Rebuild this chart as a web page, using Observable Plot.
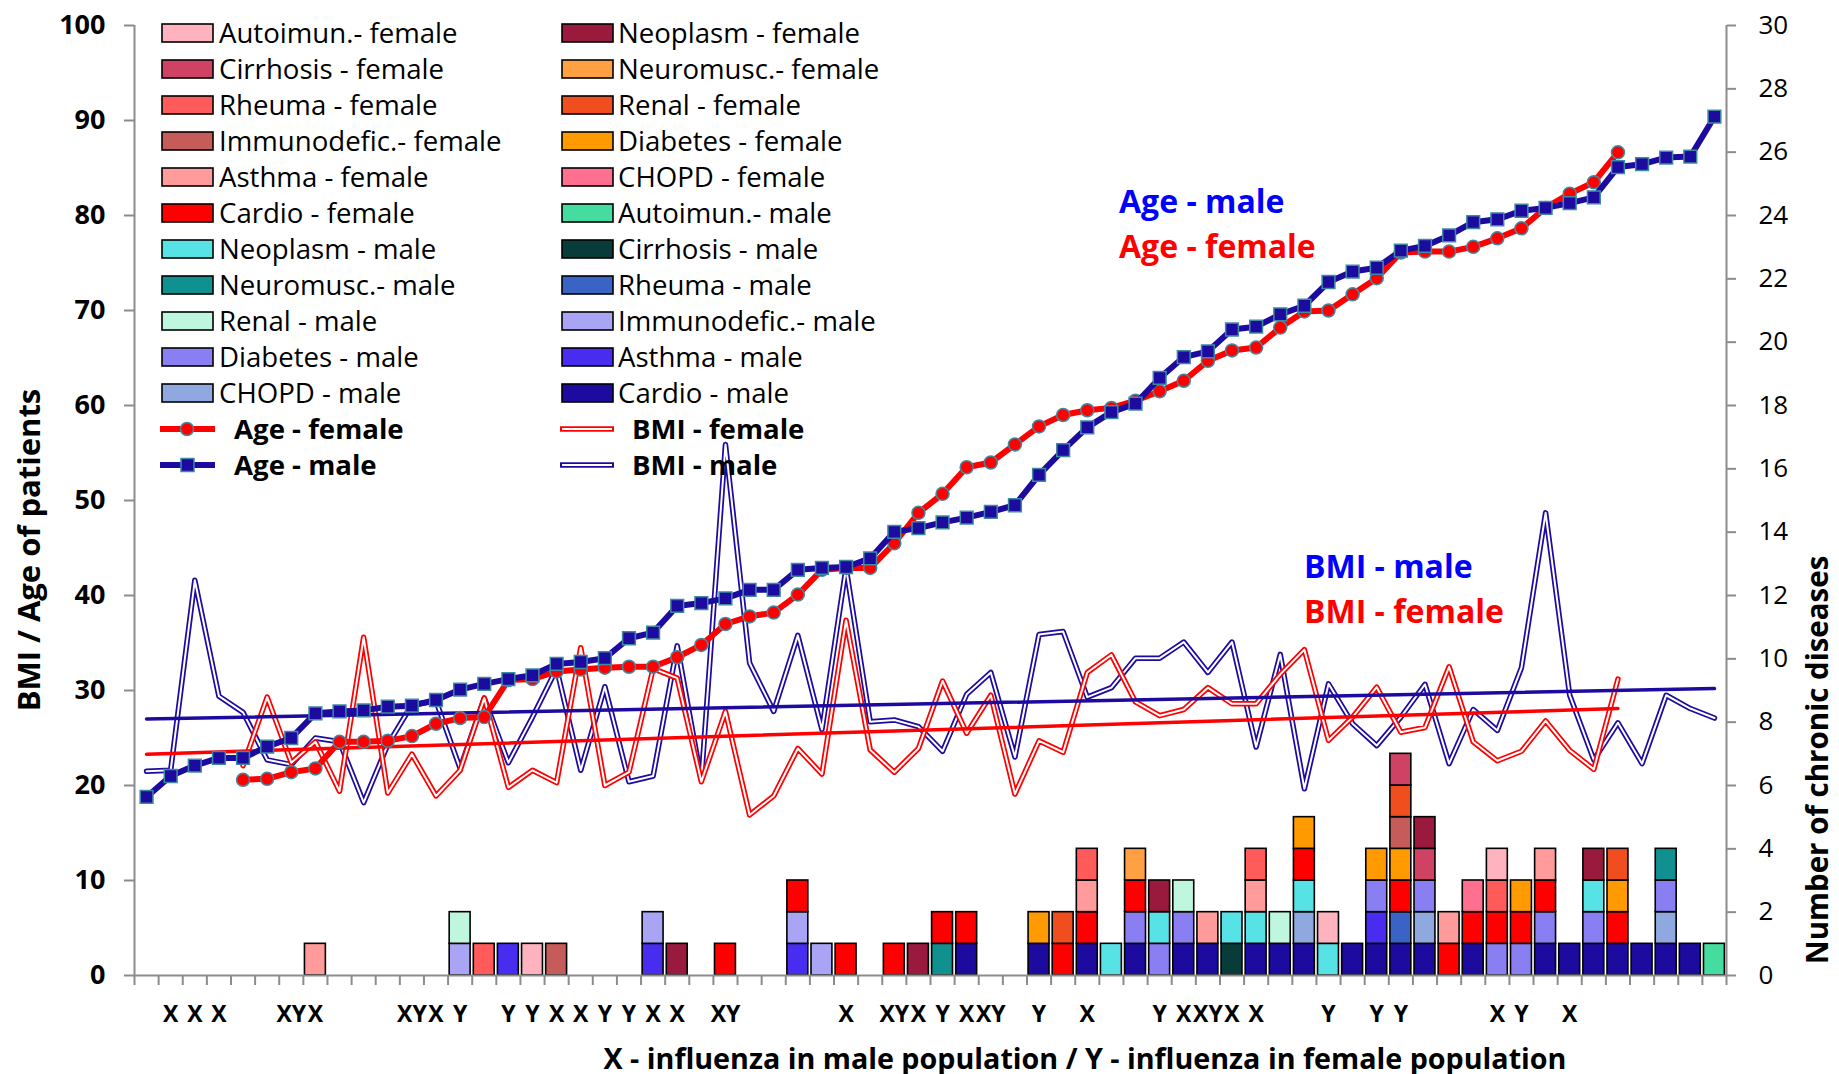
<!DOCTYPE html>
<html>
<head>
<meta charset="utf-8">
<script src="https://cdn.jsdelivr.net/npm/d3@7"></script>
<script src="https://cdn.jsdelivr.net/npm/@observablehq/plot@0.6"></script>
<style>
  body { margin: 0; background: #fff; }
  #chart { width: 1839px; height: 1074px; }
</style>
</head>
<body>
<div id="chart"></div>
<script>
// ---------------- DATA ----------------
// Age of male patients, categories 1..66
const ageMale = [18.8, 21.0, 22.1, 22.9, 22.9, 24.1, 25.0, 27.6, 27.8, 27.9, 28.3, 28.4, 29.0, 30.1, 30.7, 31.2, 31.6,
  32.8, 33.0, 33.4, 35.5, 36.1, 38.9, 39.2, 39.7, 40.6, 40.6, 42.7, 42.9, 43.0, 43.9, 46.7, 47.1, 47.7, 48.2, 48.8,
  49.5, 52.7, 55.3, 57.7, 59.3, 60.2, 62.9, 65.1, 65.7, 68.0, 68.3, 69.6, 70.5, 73.0, 74.1, 74.5, 76.3, 76.8, 77.9,
  79.3, 79.6, 80.5, 80.8, 81.3, 81.9, 85.1, 85.4, 86.1, 86.2, 90.4];
// Female series start at category 5 and end at category 62
const femaleStart = 5;
const ageFemale = [20.6, 20.7, 21.4, 21.8, 24.6, 24.6, 24.7, 25.2, 26.5, 27.1, 27.2, 31.1, 31.2, 32.0, 32.2, 32.4,
  32.5, 32.5, 33.5, 34.8, 37.0, 37.8, 38.2, 40.1, 42.7, 42.9, 42.9, 45.5, 48.7, 50.7, 53.5, 54.0, 55.9, 57.8, 59.0,
  59.5, 59.75, 60.5, 61.5, 62.6, 64.7, 65.8, 66.1, 68.2, 69.9, 70.0, 71.7, 73.4, 76.1, 76.2, 76.2, 76.7, 77.6, 78.65,
  80.8, 82.3, 83.5, 86.65];
const bmiMale = [21.5, 21.6, 41.6, 29.4, 27.7, 22.7, 22.2, 25.0, 24.6, 18.2, 24.3, 28.5, 28.9, 21.8, 29.2, 22.4, 27.2,
  32.3, 21.6, 30.4, 20.4, 21.0, 34.7, 20.6, 55.9, 32.9, 27.8, 35.8, 25.9, 42.9, 26.7, 26.9, 26.2, 23.6, 29.6, 31.9,
  23.0, 35.9, 36.2, 29.3, 30.3, 33.4, 33.4, 35.1, 31.9, 35.1, 24.05, 33.8, 19.65, 30.7, 26.5, 24.2, 27.2, 30.65, 22.3,
  28.0, 25.8, 32.4, 48.7, 29.5, 22.7, 26.6, 22.3, 29.5, 28.1, 27.1];
const bmiFemale = [22.1, 29.3, 22.4, 24.6, 19.4, 35.6, 19.2, 23.3, 18.9, 21.6, 29.2, 19.8, 21.6, 20.3, 34.5, 20.0, 21.4,
  32.3, 31.3, 20.4, 27.8, 16.9, 18.9, 23.9, 21.2, 37.4, 23.75, 21.4, 23.9, 31.0, 25.5, 29.5, 19.1, 24.7, 23.5, 31.9,
  33.75, 28.8, 27.35, 28.0, 30.3, 28.6, 28.6, 31.7, 34.3, 24.75, 27.2, 30.35, 25.6, 26.1, 32.5, 24.6, 22.6, 23.6, 26.8,
  23.7, 21.7, 31.2];
// Linear trend lines (end points)
const trendMaleCats = [1, 66];
const trendMale = [27.0, 30.2];
const trendFemaleCats = [1, 62];
const trendFemale = [23.3, 28.1];
// Category labels: X - influenza in male, Y - influenza in female
const fluLabels = ["", "X", "X", "X", "", "", "XY", "X", "", "", "", "XY", "X", "Y", "", "Y", "Y", "X", "X", "Y",
  "Y", "X", "X", "", "XY", "", "", "", "", "X", "", "XY", "X", "Y", "X", "XY", "", "Y", "", "X", "", "", "Y", "X",
  "XY", "X", "X", "", "", "Y", "", "Y", "Y", "", "", "", "X", "Y", "", "X", "", "", "", "", "", ""];
// Chronic diseases, in stacking order (bottom to top)
const diseaseCodes = ["CaM", "ChM", "AsM", "DiM", "ImM", "ReM", "RhM", "NmM", "CiM", "NeM", "AuM",
  "CaF", "ChF", "AsF", "DiF", "ImF", "ReF", "RhF", "NmF", "CiF", "NeF", "AuF"];
const diseaseNames = ["Cardio - male", "CHOPD - male", "Asthma - male", "Diabetes - male", "Immunodefic.- male",
  "Renal - male", "Rheuma - male", "Neuromusc.- male", "Cirrhosis - male", "Neoplasm - male", "Autoimun.- male",
  "Cardio - female", "CHOPD - female", "Asthma - female", "Diabetes - female", "Immunodefic.- female",
  "Renal - female", "Rheuma - female", "Neuromusc.- female", "Cirrhosis - female", "Neoplasm - female",
  "Autoimun.- female"];
const diseaseColors = ["#1d0b9f", "#8fa8e0", "#482cf0", "#8a7ff2", "#aaa4f5", "#bef7de", "#3a63c6", "#119090",
  "#073c3b", "#57e3e6", "#44dd9f", "#ff0000", "#ff6f8f", "#ff9b9b", "#ff9a00", "#c55c5a", "#f04e1e", "#ff5b5b",
  "#ffa042", "#cf4264", "#991a3d", "#ffb3be"];
// Diseases present per category (bottom to top)
const diseaseStacks = [
  [8, ["AsF"]], [14, ["ImM", "ReM"]], [15, ["RhF"]], [16, ["AsM"]], [17, ["AuF"]], [18, ["ImF"]],
  [22, ["AsM", "ImM"]], [23, ["NeF"]], [25, ["CaF"]], [28, ["AsM", "ImM", "CaF"]], [29, ["ImM"]], [30, ["CaF"]],
  [32, ["CaF"]], [33, ["NeF"]], [34, ["NmM", "CaF"]], [35, ["CaM", "CaF"]], [38, ["CaM", "DiF"]],
  [39, ["CaF", "ReF"]], [40, ["CaM", "CaF", "AsF", "RhF"]], [41, ["NeM"]], [42, ["CaM", "DiM", "CaF", "NmF"]],
  [43, ["DiM", "NeM", "NeF"]], [44, ["CaM", "DiM", "ReM"]], [45, ["CaM", "AsF"]], [46, ["CiM", "NeM"]],
  [47, ["CaM", "NeM", "AsF", "RhF"]], [48, ["CaM", "ReM"]], [49, ["CaM", "ChM", "NeM", "CaF", "DiF"]],
  [50, ["NeM", "AuF"]], [51, ["CaM"]], [52, ["CaM", "AsM", "DiM", "DiF"]],
  [53, ["CaM", "RhM", "CaF", "DiF", "ImF", "ReF", "CiF"]], [54, ["CaM", "ChM", "DiM", "CiF", "NeF"]],
  [55, ["CaF", "AsF"]], [56, ["CaM", "CaF", "ChF"]], [57, ["DiM", "CaF", "RhF", "AuF"]], [58, ["DiM", "CaF", "DiF"]],
  [59, ["CaM", "DiM", "CaF", "AsF"]], [60, ["CaM"]], [61, ["CaM", "DiM", "NeM", "NeF"]],
  [62, ["CaM", "CaF", "DiF", "ReF"]], [63, ["CaM"]], [64, ["CaM", "ChM", "DiM", "NmM"]], [65, ["CaM"]], [66, ["AuM"]]
];
const rightTicks = d3.range(0, 31, 2);
const leftTicks = d3.range(0, 101, 10);

// ---------------- BUILD ----------------
const nCat = ageMale.length;
const K = 100 / 30; // one disease in left-axis units
const colorOf = Object.fromEntries(diseaseCodes.map((c, i) => [c, diseaseColors[i]]));
const maleRows = ageMale.map((v, i) => ({cat: i + 1, age: v, bmi: bmiMale[i]}));
const femaleRows = ageFemale.map((v, i) => ({cat: i + femaleStart, age: v, bmi: bmiFemale[i]}));
const segs = diseaseStacks.flatMap(([cat, list]) => list.map((code, k) => ({cat, code, k})));
const trendM = trendMaleCats.map((c, i) => ({cat: c, v: trendMale[i]}));
const trendF = trendFemaleCats.map((c, i) => ({cat: c, v: trendFemale[i]}));
const cats = d3.range(1, nCat + 1);

const RED = "#ff0000", NAVY = "#1d0b9f", GREY = "#8c8c8c", MARK_STROKE = "#3f8aa0";
const FONT = "'Open Sans', sans-serif";

const plot = Plot.plot({
  width: 1839, height: 1074,
  marginLeft: 134, marginRight: 113, marginTop: 25, marginBottom: 99,
  x: {type: "linear", domain: [0.5, nCat + 0.5]},
  y: {domain: [0, 100]},
  style: {fontFamily: FONT, background: "white", overflow: "visible"},
  marks: [
    // stacked disease bars (right axis units)
    Plot.rect(segs, {
      x1: d => d.cat - 0.5, x2: d => d.cat + 0.5,
      y1: d => d.k * K, y2: d => (d.k + 1) * K,
      fill: d => colorOf[d.code], stroke: "#000", strokeWidth: 1.6,
      insetLeft: 1.6, insetRight: 1.6
    }),
    // axes lines
    Plot.ruleX([0.5, nCat + 0.5], {stroke: GREY, strokeWidth: 2}),
    Plot.ruleY([0], {stroke: GREY, strokeWidth: 2}),
    // left axis
    Plot.axisY(leftTicks, {anchor: "left", tickSize: 10, tickPadding: 19, stroke: GREY, strokeWidth: 2,
      fill: "#000", fontSize: 27, fontWeight: "bold", label: null}),
    // right axis (number of chronic diseases)
    Plot.axisY(rightTicks.map(v => v * K), {anchor: "right", tickSize: 9, tickPadding: 23, stroke: GREY,
      strokeWidth: 2, fill: "#000", fontSize: 26, tickFormat: d => String(Math.round(d / K)), label: null}),
    // x tick marks between categories
    Plot.axisX(d3.range(0.5, nCat + 1, 1), {anchor: "bottom", tickSize: 10, stroke: GREY, strokeWidth: 2,
      tickFormat: () => "", label: null}),
    // influenza labels
    Plot.axisX(cats, {anchor: "bottom", tickSize: 0, tickPadding: 30, fill: "#000", fontSize: 23,
      fontWeight: "bold", tickFormat: d => fluLabels[d - 1], label: null}),
    // BMI double lines
    Plot.line(maleRows, {x: "cat", y: "bmi", stroke: NAVY, strokeWidth: 5.5}),
    Plot.line(maleRows, {x: "cat", y: "bmi", stroke: "white", strokeWidth: 2}),
    Plot.line(femaleRows, {x: "cat", y: "bmi", stroke: RED, strokeWidth: 5.5}),
    Plot.line(femaleRows, {x: "cat", y: "bmi", stroke: "white", strokeWidth: 2}),
    // trend lines
    Plot.line(trendM, {x: "cat", y: "v", stroke: NAVY, strokeWidth: 3.5}),
    Plot.line(trendF, {x: "cat", y: "v", stroke: RED, strokeWidth: 3.5}),
    // age lines
    Plot.line(femaleRows, {x: "cat", y: "age", stroke: RED, strokeWidth: 6}),
    Plot.dot(femaleRows, {x: "cat", y: "age", r: 6.5, fill: RED, stroke: MARK_STROKE, strokeWidth: 1.5}),
    Plot.line(maleRows, {x: "cat", y: "age", stroke: NAVY, strokeWidth: 6}),
    Plot.dot(maleRows, {x: "cat", y: "age", r: 7.2, symbol: "square", fill: NAVY, stroke: MARK_STROKE, strokeWidth: 1.5})
  ]
});

document.getElementById("chart").appendChild(plot);

// ---------------- ANNOTATIONS, TITLES, LEGEND ----------------
const svg = d3.select(plot);
const g = svg.append("g").attr("font-family", FONT).attr("text-anchor", "start");

// axis titles
g.append("text").attr("transform", "translate(40,550) rotate(-90)").attr("text-anchor", "middle")
  .attr("font-size", 31).attr("font-weight", "bold").attr("fill", "#000").text("BMI / Age of patients");
g.append("text").attr("transform", "translate(1828,760) rotate(-90)").attr("text-anchor", "middle")
  .attr("font-size", 29.5).attr("font-weight", "bold").attr("fill", "#000").text("Number of chronic diseases");
g.append("text").attr("x", 1085).attr("y", 1069).attr("text-anchor", "middle")
  .attr("font-size", 28.7).attr("font-weight", "bold").attr("fill", "#000")
  .text("X - influenza in male population / Y - influenza in female population");

// series annotations
const notes = [
  {t: "Age - male", x: 1119, y: 213, c: "#0000ff"},
  {t: "Age - female", x: 1119, y: 258, c: RED},
  {t: "BMI - male", x: 1304, y: 578, c: "#0000ff"},
  {t: "BMI - female", x: 1304, y: 623, c: RED}
];
notes.forEach(n => g.append("text").attr("x", n.x).attr("y", n.y).attr("font-size", 32)
  .attr("font-weight", "bold").attr("fill", n.c).text(n.t));

// legend
const legendOrder = diseaseNames.map((name, i) => ({name, color: diseaseColors[i]})).reverse();
const rowY = r => 33 + 36 * r;
const colSw = [162, 562], colTx = [219, 618];
legendOrder.forEach((d, j) => {
  const r = Math.floor(j / 2), c = j % 2, cy = rowY(r);
  g.append("rect").attr("x", colSw[c]).attr("y", cy - 9).attr("width", 51).attr("height", 18)
    .attr("fill", d.color).attr("stroke", "#000").attr("stroke-width", 1.6);
  g.append("text").attr("x", colTx[c]).attr("y", cy).attr("dy", "0.36em").attr("font-size", 27.6)
    .attr("fill", "#000").text(d.name);
});
// line entries
const yAF = rowY(11), yAM = rowY(12);
g.append("line").attr("x1", 160).attr("x2", 215).attr("y1", yAF).attr("y2", yAF).attr("stroke", RED).attr("stroke-width", 6);
g.append("circle").attr("cx", 187).attr("cy", yAF).attr("r", 6.5).attr("fill", RED).attr("stroke", MARK_STROKE).attr("stroke-width", 1.5);
g.append("text").attr("x", 234).attr("y", yAF).attr("dy", "0.36em").attr("font-size", 27.6).attr("font-weight", "bold").text("Age - female");
g.append("line").attr("x1", 160).attr("x2", 215).attr("y1", yAM).attr("y2", yAM).attr("stroke", NAVY).attr("stroke-width", 6);
g.append("rect").attr("x", 181).attr("y", yAM - 6.5).attr("width", 13).attr("height", 13).attr("fill", NAVY).attr("stroke", MARK_STROKE).attr("stroke-width", 1.5);
g.append("text").attr("x", 234).attr("y", yAM).attr("dy", "0.36em").attr("font-size", 27.6).attr("font-weight", "bold").text("Age - male");
[[yAF, RED, "BMI - female"], [yAM, NAVY, "BMI - male"]].forEach(([yy, col, label]) => {
  g.append("line").attr("x1", 560).attr("x2", 614).attr("y1", yy).attr("y2", yy).attr("stroke", col).attr("stroke-width", 5.5);
  g.append("line").attr("x1", 562).attr("x2", 612).attr("y1", yy).attr("y2", yy).attr("stroke", "white").attr("stroke-width", 2);
  g.append("text").attr("x", 632).attr("y", yy).attr("dy", "0.36em").attr("font-size", 27.6).attr("font-weight", "bold").text(label);
});
</script>
</body>
</html>
